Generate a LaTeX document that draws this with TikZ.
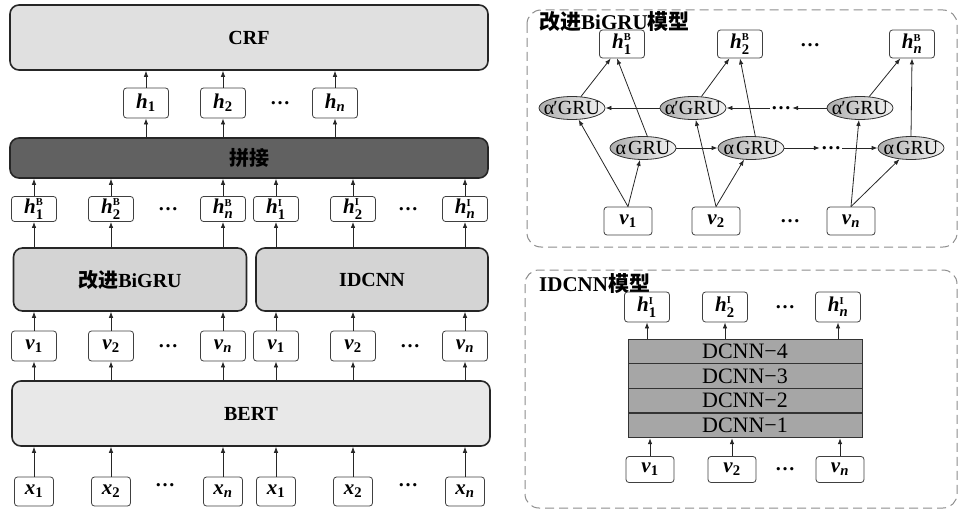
\documentclass[tikz,border=0pt]{standalone}
\usepackage{fontspec}
\usepackage{amsmath}
\setmainfont{Liberation Serif}
\newfontfamily\cjk{Noto Sans CJK SC}
\usetikzlibrary{arrows.meta,shapes.geometric}

% vector labels
\newcommand{\hvec}[1]{\textbf{\textit{h}}$_{\textbf{#1}}$}
\newcommand{\hvecs}[2]{\textbf{\textit{h}}$_{\textbf{#1}}^{\scriptscriptstyle\textbf{#2}}$}
\newcommand{\vvec}[1]{\textbf{\textit{v}}$_{\textbf{#1}}$}
\newcommand{\xvec}[1]{\textbf{\textit{x}}$_{\textbf{#1}}$}

\begin{document}
\begin{tikzpicture}[x=1pt,y=-1pt,
    >={Latex[length=6pt,width=4.5pt]},
    conn/.style={->,line width=0.8pt,black!85},
    bigbox/.style={draw=black!85,line width=1.6pt,rounded corners=9pt,
      inner sep=0pt,font=\bfseries\fontsize{20}{22}\selectfont},
    vecbox/.style={draw=black!75,line width=0.8pt,rounded corners=3pt,fill=white,
      minimum width=45pt,minimum height=30pt,inner sep=0pt,
      font=\fontsize{21}{22}\selectfont},
    gru/.style={ellipse,draw=black!80,line width=0.8pt,left color=black!32,
      right color=black!5,minimum width=66pt,minimum height=23pt,
      inner xsep=-7pt,inner ysep=0pt,font=\fontsize{20}{20}\selectfont},
    dcnn/.style={draw=black!80,line width=0.8pt,fill=black!35,minimum width=234pt,
      minimum height=24.5pt,inner sep=0pt,font=\fontsize{22}{22}\selectfont},
    panel/.style={draw=black!45,line width=1pt,dash pattern=on 9pt off 5pt,
      rounded corners=14pt},
    dotsnode/.style={inner sep=1pt,font=\bfseries\fontsize{20}{20}\selectfont},
    paneltitle/.style={anchor=west,inner sep=0pt,
      font=\bfseries\fontsize{21}{22}\selectfont}]
  \useasboundingbox (0,0) rectangle (960,516);

  % Left: CRF and concatenation
  \node[bigbox,fill=black!12,minimum width=478pt,minimum height=65pt] (crf) at (249,37.5) {CRF};
  \node[bigbox,fill=black!62,minimum width=478pt,minimum height=40pt,text=black,
    font=\cjk\bfseries\fontsize{20}{22}\selectfont] (concat) at (249,158) {拼接};

  % Left: fused outputs
  \foreach \x/\lab [count=\k] in {146/1,223/2,335/\textit{n}} {
    \node[vecbox] (h\k) at (\x,103) {\hvec{\lab}};
    \draw[conn] (h\k.south |- concat.north) -- (h\k.south);
    \draw[conn] (h\k.north) -- (h\k.north |- crf.south);
  }
  \node[dotsnode] (hdots) at (280,103) {…};

  % Left: encoders
  \node[bigbox,fill=black!17,minimum width=233pt,minimum height=63pt] (bigru) at (130,279.5) {{\cjk 改进}BiGRU};
  \node[bigbox,fill=black!17,minimum width=232pt,minimum height=63pt] (idcnn) at (372,279.5) {IDCNN};
  \node[bigbox,fill=black!9,minimum width=478pt,minimum height=65pt] (bert) at (251,413.5) {BERT};

  % Left: columns of vectors
  \foreach \x/\i/\lab/\s/\S in {34/1/1/b/B,111/2/2/b/B,223/n/\textit{n}/b/B,
      276/1/1/i/I,353/2/2/i/I,465/n/\textit{n}/i/I} {
    \node[vecbox,minimum height=25pt] (h\s\i) at (\x,209) {\hvecs{\lab}{\S}};
    \node[vecbox] (v\s\i) at (\x,346) {\vvec{\lab}};
    \node[vecbox,minimum width=39pt,minimum height=29pt] (x\s\i) at (\x,491.5) {\xvec{\lab}};
  }
  \foreach \x/\y [count=\k] in {168/209,408/209,168/346,410/346,165/485,408/485}
    \node[dotsnode] (ldots\k) at (\x,\y) {…};

  % Left: vertical links
  \foreach \s/\m in {b/bigru,i/idcnn} {
    \foreach \i in {1,2,n} {
      \draw[conn] (x\s\i.north) -- (x\s\i.north |- bert.south);
      \draw[conn] (v\s\i.south |- bert.north) -- (v\s\i.south);
      \draw[conn] (v\s\i.north) -- (v\s\i.north |- \m.south);
      \draw[conn] (h\s\i.south |- \m.north) -- (h\s\i.south);
      \draw[conn] (h\s\i.north) -- (h\s\i.north |- concat.south);
    }
  }

  % Right top: improved BiGRU
  \draw[panel] (527,10) rectangle (957,247);
  \node[paneltitle] (bititle) at (539,22) {{\cjk 改进}BiGRU{\cjk 模型}};

  \node[vecbox,minimum height=28pt] (rh1) at (622,44) {\hvecs{1}{B}};
  \node[vecbox,minimum height=28pt] (rh2) at (740,44) {\hvecs{2}{B}};
  \node[vecbox,minimum height=28pt] (rhn) at (912,44) {\hvecs{\textit{n}}{B}};
  \node[dotsnode] (rhdots) at (810,45) {…};

  \node[gru] (rp1) at (572,108) {α\kern-1pt′GRU};
  \node[gru] (rp2) at (693,108) {α\kern-1pt′GRU};
  \node[gru] (rpn) at (860,108) {α\kern-1pt′GRU};
  \node[dotsnode] (rpdots) at (781,108) {…};

  \node[gru] (ra1) at (643,148) {α\kern2pt GRU};
  \node[gru] (ra2) at (751,148) {α\kern2pt GRU};
  \node[gru] (ran) at (911,148) {α\kern2pt GRU};
  \node[dotsnode] (radots) at (831,148) {…};

  \node[vecbox,minimum width=48pt,minimum height=28pt] (rv1) at (628,221) {\vvec{1}};
  \node[vecbox,minimum width=48pt,minimum height=28pt] (rv2) at (716,221) {\vvec{2}};
  \node[vecbox,minimum width=48pt,minimum height=28pt] (rvn) at (851,221) {\vvec{\textit{n}}};
  \node[dotsnode] (rvdots) at (790,221) {…};

  % inputs to both directions
  \foreach \i in {1,2,n} {
    \draw[conn] (rv\i.north) -- (rp\i);
    \draw[conn] (rv\i.north) -- (ra\i);
  }
  % recurrent links
  \draw[conn] (rp2) -- (rp1);
  \draw[conn] (rpdots) -- (rp2);
  \draw[conn] (rpn) -- (rpdots);
  \draw[conn] (ra1) -- (ra2);
  \draw[conn] (ra2) -- (radots);
  \draw[conn] (radots) -- (ran);
  % outputs
  \draw[conn] (rp1) -- (rh1);
  \draw[conn] (ra1.70) -- ([xshift=-5pt]rh1.south);
  \draw[conn] (rp2) -- (rh2);
  \draw[conn] (ra2.70) -- (rh2.south);
  \draw[conn] (rpn) -- (rhn);
  \draw[conn] (ran.north) -- (rhn.south);

  % Right bottom: IDCNN
  \draw[panel] (525,270) rectangle (957,508);
  \node[paneltitle] (idtitle) at (539,284) {IDCNN{\cjk 模型}};

  \foreach \k/\y in {1/425.5,2/400.5,3/376,4/351.5}
    \node[dcnn] (d\k) at (745,\y) {DCNN−\k};

  \foreach \x/\i/\lab in {647/1/1,725/2/2,838/n/\textit{n}} {
    \node[vecbox] (ih\i) at (\x,307) {\hvecs{\lab}{I}};
    \draw[conn] (ih\i.south |- d4.north) -- (ih\i.south);
  }
  \foreach \x/\i/\lab in {650/1/1,732/2/2,840/n/\textit{n}} {
    \node[vecbox,minimum width=48pt,minimum height=26pt] (iv\i) at (\x,469.5) {\vvec{\lab}};
    \draw[conn] (iv\i.north) -- (iv\i.north |- d1.south);
  }
  \node[dotsnode] (ihdots) at (785,307) {…};
  \node[dotsnode] (ivdots) at (785,469) {…};
\end{tikzpicture}
\end{document}
